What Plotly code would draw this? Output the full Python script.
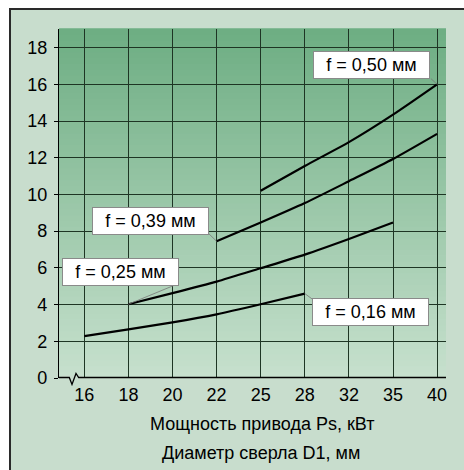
import plotly.graph_objects as go

# ---- data ----
x_labels = ["16", "18", "20", "22", "25", "28", "32", "35", "40"]
x_idx = list(range(len(x_labels)))

f016_x = x_idx[0:6]
f016_y = [2.28, 2.65, 3.03, 3.47, 4.02, 4.6]
f025_x = x_idx[1:8]
f025_y = [4.02, 4.62, 5.25, 5.98, 6.72, 7.57, 8.47]
f039_x = x_idx[3:9]
f039_y = [7.45, 8.47, 9.53, 10.72, 11.93, 13.3]
f050_x = x_idx[4:9]
f050_y = [10.2, 11.55, 12.85, 14.35, 16.0]

series_names = ["f = 0,16 мм", "f = 0,25 мм", "f = 0,39 мм", "f = 0,50 мм"]
y_ticks = [0, 2, 4, 6, 8, 10, 12, 14, 16, 18]

# label box centres (data coords) and leader-line box corners
label_pos = [(6.49, 3.60), (0.83, 5.78), (1.51, 8.54), (6.51, 17.07)]
leader_corner = [(5.19, 4.26), (2.06, 5.07), (2.81, 7.89), (7.86, 16.31)]

series = [(f016_x, f016_y), (f025_x, f025_y), (f039_x, f039_y), (f050_x, f050_y)]
endpoints = [(f016_x[-1], f016_y[-1]), (f025_x[0], f025_y[0]),
             (f039_x[0], f039_y[0]), (f050_x[-1], f050_y[-1])]

FONT = "Liberation Sans, Arial, sans-serif"
PANEL = "#c8ddcd"

fig = go.Figure()
for (xs, ys), name in zip(series, series_names):
    fig.add_trace(go.Scatter(x=xs, y=ys, mode="lines", name=name,
                             line=dict(color="black", width=2.2, shape="spline", smoothing=0.6),
                             hoverinfo="skip"))

shapes = []
# outer panel
L, T, W, H = 59, 29, 387, 349
def px_x(p):
    return (p - L) / W
def px_y(p):
    return (T + H - p) / H
shapes.append(dict(type="rect", xref="paper", yref="paper",
                   x0=px_x(10), x1=px_x(480), y0=px_y(9), y1=px_y(490),
                   fillcolor=PANEL, line=dict(color="#2a2a2a", width=2), layer="below"))
# gradient background of plot area
top = (110, 174, 131)
bot = (198, 224, 205)
N = 60
for i in range(N):
    t = i / (N - 1)
    c = tuple(round(bot[k] + (top[k] - bot[k]) * t) for k in range(3))
    shapes.append(dict(type="rect", xref="x domain", yref="y domain",
                       x0=0, x1=1, y0=i / N, y1=(i + 1) / N + 0.002,
                       fillcolor="rgb(%d,%d,%d)" % c, line=dict(width=0), layer="below"))

# x axis baseline with break symbol
def ix(p):
    return (p - 84.3) / 44.1
shapes.append(dict(type="rect", xref="paper", yref="paper",
                   x0=px_x(62), x1=px_x(82), y0=px_y(381), y1=px_y(375),
                   fillcolor=PANEL, line=dict(width=0), layer="above"))
path = "M %f,%f L %f,%f L %f,%f L %f,%f L %f,%f L %f,%f" % (
    px_x(59), px_y(377.5), px_x(69.3), px_y(377.5), px_x(72), px_y(384.5),
    px_x(76), px_y(373.5), px_x(78.7), px_y(377.5), px_x(446), px_y(377.5))
shapes.append(dict(type="path", xref="paper", yref="paper", path=path,
                   line=dict(color="black", width=1.3), layer="above"))

# leader lines
for (ex, ey), (cx, cy) in zip(endpoints, leader_corner):
    shapes.append(dict(type="line", xref="x", yref="y", x0=ex, y0=ey, x1=cx, y1=cy,
                       line=dict(color="#777777", width=0.8), layer="above"))

annotations = []
for (lx, ly), name in zip(label_pos, series_names):
    annotations.append(dict(x=lx, y=ly, xref="x", yref="y", text=name, showarrow=False,
                            font=dict(family=FONT, size=18, color="black"),
                            bgcolor="white", bordercolor="#8a8a8a", borderwidth=1,
                            borderpad=3, width=109, height=20))

annotations.append(dict(x=px_x(262), y=px_y(424), xref="paper", yref="paper",
                        text="Мощность привода Ps, кВт", showarrow=False,
                        font=dict(family=FONT, size=18, color="black"),
                        xanchor="center", yanchor="middle"))
annotations.append(dict(x=px_x(261), y=px_y(453), xref="paper", yref="paper",
                        text="Диаметр сверла D1, мм", showarrow=False,
                        font=dict(family=FONT, size=18, color="black"),
                        xanchor="center", yanchor="middle"))

fig.update_layout(
    width=464, height=470,
    margin=dict(l=L, r=464 - L - W, t=T, b=470 - T - H),
    paper_bgcolor="white", plot_bgcolor="rgba(0,0,0,0)",
    showlegend=False,
    shapes=shapes, annotations=annotations,
    xaxis=dict(range=[ix(59), ix(446)], tickmode="array", tickvals=x_idx, ticktext=x_labels,
               showgrid=True, gridcolor="#1e3524", gridwidth=1, zeroline=False,
               showline=False, ticks="", ticklabelstandoff=4,
               tickfont=dict(family=FONT, size=18, color="black"), fixedrange=True),
    yaxis=dict(range=[0, (377.5 - 29) / 18.33], tickmode="array", tickvals=y_ticks,
               showgrid=True, gridcolor="#1e3524", gridwidth=1, zeroline=False,
               showline=True, linecolor="black", linewidth=1.3,
               ticks="outside", ticklen=4, tickcolor="black", ticklabelstandoff=3,
               tickfont=dict(family=FONT, size=18, color="black"), fixedrange=True),
)

fig.write_html("out.html", config={"displayModeBar": False},
               post_script="document.body.style.margin='0';document.body.style.overflow='hidden';")
